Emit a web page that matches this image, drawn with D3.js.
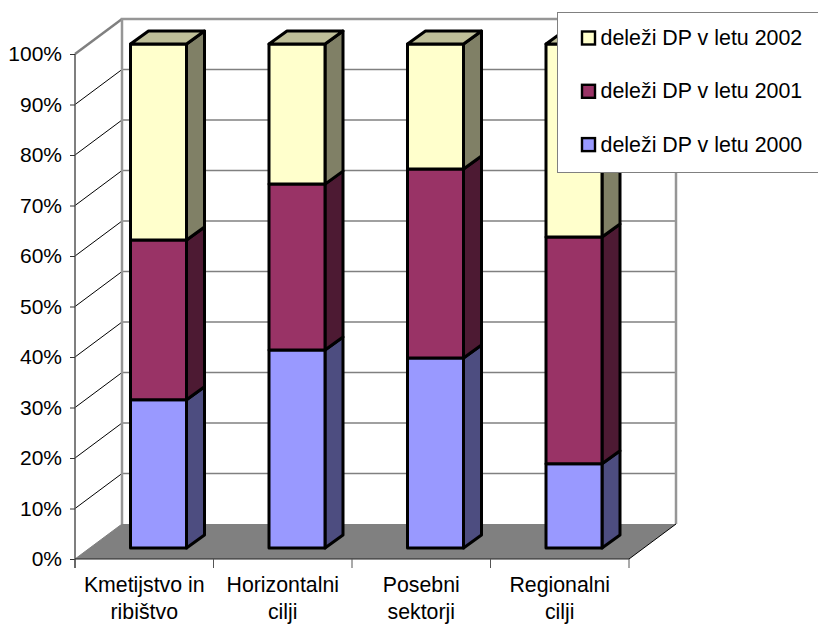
<!DOCTYPE html>
<html><head><meta charset="utf-8"><script src="https://cdn.jsdelivr.net/npm/d3@7"></script>
<style>html,body{margin:0;padding:0;background:#fff}svg{display:block}text{font-family:"Liberation Sans",Arial,sans-serif;fill:#000}</style></head>
<body><div id="c"></div>
<script>
const categories=[["Kmetijstvo in","ribištvo"],["Horizontalni","cilji"],["Posebni","sektorji"],["Regionalni","cilji"]];
const seriesNames=["deleži DP v letu 2000","deleži DP v letu 2001","deleži DP v letu 2002"];
const share2000=[29.4,39.3,37.7,16.7];
const share2001=[31.7,32.9,37.5,45.0];
const share2002=[38.9,27.8,24.8,38.3];
const tickValues=d3.range(0,101,10);
const fills=["#9999ff","#993366","#ffffcc"];
const sides=["#4d4d80","#4d1a33","#808066"];
const tops=["#7a7acc","#7a2952","#bfbf99"];

const W=818,H=624;
const svg=d3.select("#c").append("svg").attr("width",W).attr("height",H);
const depth={x:47,y:-35}, barDepth={x:18,y:-13};
const x=d3.scaleBand().domain(d3.range(4)).range([75,629]);
const y=d3.scaleLinear().domain([0,100]).range([559,54]);
const yBar=d3.scaleLinear().domain([0,100]).range([548,44]);
const barW=56, barOffset=55.5;
const x0=75,x1=629;

// floor
svg.append("polygon").attr("fill","#808080")
 .attr("points",[[x0,y(0)],[x1,y(0)],[x1+depth.x,y(0)+depth.y],[x0+depth.x,y(0)+depth.y]].join(" "));
// gridlines
tickValues.slice(1).forEach(t=>{
  svg.append("line").attr("x1",x0).attr("y1",y(t)).attr("x2",x0+depth.x).attr("y2",y(t)+depth.y)
    .attr("stroke",t===100?"#808080":"#000").attr("stroke-width",t===100?2.5:1);
  if(t<100)svg.append("line").attr("x1",x0+depth.x).attr("y1",y(t)+depth.y).attr("x2",x1+depth.x).attr("y2",y(t)+depth.y)
    .attr("stroke","#808080").attr("stroke-width",1.5);
});
// back wall frame
svg.append("path").attr("fill","none").attr("stroke","#969696").attr("stroke-width",2.5)
 .attr("d",`M${x0+depth.x},${y(0)+depth.y}V${y(100)+depth.y}H${x1+depth.x}V${y(0)+depth.y}`);
// floor diagonals
svg.append("line").attr("x1",x1).attr("y1",y(0)).attr("x2",x1+depth.x).attr("y2",y(0)+depth.y).attr("stroke","#000");
svg.append("line").attr("x1",x0).attr("y1",y(0)).attr("x2",x0+depth.x).attr("y2",y(0)+depth.y).attr("stroke","#808080");

// axes
const gy=svg.append("g").attr("transform",`translate(${x0},0)`)
 .call(d3.axisLeft(y).tickValues(tickValues).tickFormat(d=>d+"%").tickSize(5).tickPadding(8));
gy.select(".domain").attr("stroke","#555").attr("stroke-width",1.5).attr("d",`M0,${y(100)}V${y(0)+9}`);
gy.selectAll("line").attr("stroke","#333");
gy.selectAll("text").style("font-size","21px");
const gx=svg.append("g");
gx.append("line").attr("x1",x0).attr("x2",x1).attr("y1",y(0)).attr("y2",y(0)).attr("stroke","#222").attr("stroke-width",1.2);
d3.range(5).forEach(i=>{const px=x0+i*x.bandwidth();
  gx.append("line").attr("x1",px).attr("x2",px).attr("y1",y(0)).attr("y2",y(0)+9).attr("stroke","#555");});
categories.forEach((c,i)=>{
  const t=gx.append("text").attr("text-anchor","middle").style("font-size","21.3px");
  c.forEach((s,j)=>t.append("tspan").attr("x",x(i)+x.bandwidth()/2).attr("y",592+j*27).text(s));
});

// bars
const series=[share2000,share2001,share2002];
const stack=categories.map((_,i)=>{let a=0;return series.map((s,k)=>{const r={k,lo:a,hi:a+s[i]};a+=s[i];return r;});});
categories.forEach((_,i)=>{
  const L=x(i)+barOffset, R=L+barW;
  const g=svg.append("g").attr("stroke","#000").attr("stroke-width",3).attr("stroke-linejoin","round");
  stack[i].forEach(s=>{
    const yb=yBar(s.lo), yt=yBar(s.hi);
    g.append("polygon").attr("fill",sides[s.k]).attr("points",[[R,yb],[R+barDepth.x,yb+barDepth.y],[R+barDepth.x,yt+barDepth.y],[R,yt]].join(" "));
    g.append("rect").attr("x",L).attr("y",yt).attr("width",barW).attr("height",yb-yt).attr("fill",fills[s.k]);
  });
  const yt=yBar(100);
  g.append("polygon").attr("fill",tops[2]).attr("points",[[L,yt],[R,yt],[R+barDepth.x,yt+barDepth.y],[L+barDepth.x,yt+barDepth.y]].join(" "));
});

// legend
const lg=svg.append("g");
lg.append("rect").attr("x",557.5).attr("y",12.5).attr("width",262).attr("height",160).attr("fill","#fff").attr("stroke","#808080");
[2,1,0].forEach((k,r)=>{
  const cy=38+r*53.3;
  lg.append("rect").attr("x",582).attr("y",cy-6.5).attr("width",13).attr("height",13).attr("fill",fills[k]).attr("stroke","#000").attr("stroke-width",2.4);
  lg.append("text").attr("x",600.5).attr("y",cy+7).style("font-size","21.4px").text(seriesNames[k]);
});
</script></body></html>
